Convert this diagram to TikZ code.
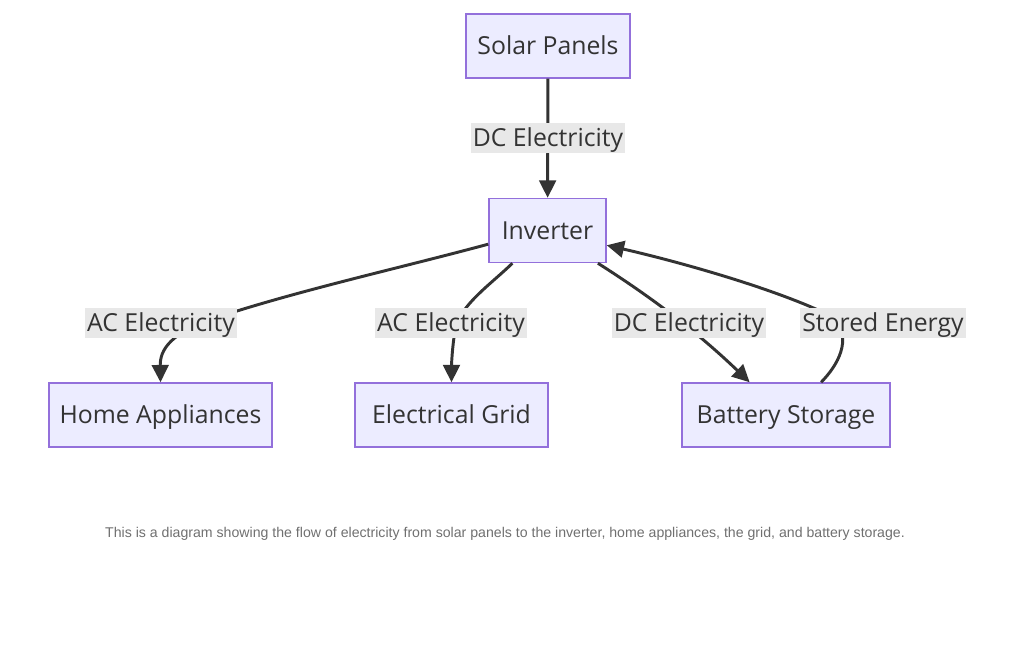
\documentclass[tikz,border=0pt]{standalone}
\usepackage{fontspec}
\setmainfont{Open Sans}
\newfontfamily\capfont{Liberation Sans}
\usetikzlibrary{arrows.meta,calc}
\definecolor{boxfill}{HTML}{ECECFF}
\definecolor{boxline}{HTML}{9370DB}
\definecolor{ink}{HTML}{333333}
\definecolor{lblbg}{HTML}{E8E8E8}
\definecolor{capgray}{HTML}{707070}
\begin{document}
\begin{tikzpicture}[x=0.75pt,y=-0.75pt,
  box/.style={draw=boxline, fill=boxfill, line width=1.1pt, text=ink,
    font=\fontsize{18.6}{22}\selectfont, inner sep=0pt, minimum height=48pt,
    text height=15pt, text depth=2pt},
  lbl/.style={fill=lblbg, text=ink, font=\fontsize{18.6}{22}\selectfont,
    inner xsep=1.5pt, inner ysep=0pt, minimum height=22.5pt,
    text height=15pt, text depth=2pt},
  flow/.style={draw=ink, line width=2.2pt, -{Triangle[length=13pt,width=12.5pt]}},
  capstyle/.style={text=capgray, font=\capfont\fontsize{10.6}{12}\selectfont}
]
\useasboundingbox (0,0) rectangle (1024,647);
\fill[white] (0,0) rectangle (1024,647);

\node[box, minimum width=164*0.75pt] (solar) at (548,46) {Solar Panels};
\node[box, minimum width=117*0.75pt] (inv) at (547.5,230.5) {Inverter};
\node[box, minimum width=223*0.75pt] (home) at (160.5,415) {Home Appliances};
\node[box, minimum width=193*0.75pt] (grid) at (451.5,415) {Electrical Grid};
\node[box, minimum width=208*0.75pt] (batt) at (786,415) {Battery Storage};

\draw[flow] (solar) -- (inv);
\draw[flow] (inv.193) .. controls (400,268) and (300,290) .. (215,318)
  .. controls (170,333) and (160,350) .. (home.north);
\draw[flow] (inv.223) .. controls (490,285) and (460,305) .. (455,330)
  .. controls (452,350) and (451.5,365) .. (grid.north);
\draw[flow] (inv.327) .. controls (640,290) and (690,325) .. (batt.138);
\draw[flow] (batt.43) .. controls (838,365) and (852,340) .. (835,318)
  .. controls (780,290) and (680,262) .. (inv.346);

\node[lbl] (l1) at (548,138) {DC Electricity};
\node[lbl] (l2) at (161,323) {AC Electricity};
\node[lbl] (l3) at (451,323) {AC Electricity};
\node[lbl] (l4) at (689,323) {DC Electricity};
\node[lbl] (l5) at (883,323) {Stored Energy};

\node[capstyle] (cap) at (505,534) {This is a diagram showing the flow of electricity from solar panels to the inverter, home appliances, the grid, and battery storage.};
\end{tikzpicture}
\end{document}
